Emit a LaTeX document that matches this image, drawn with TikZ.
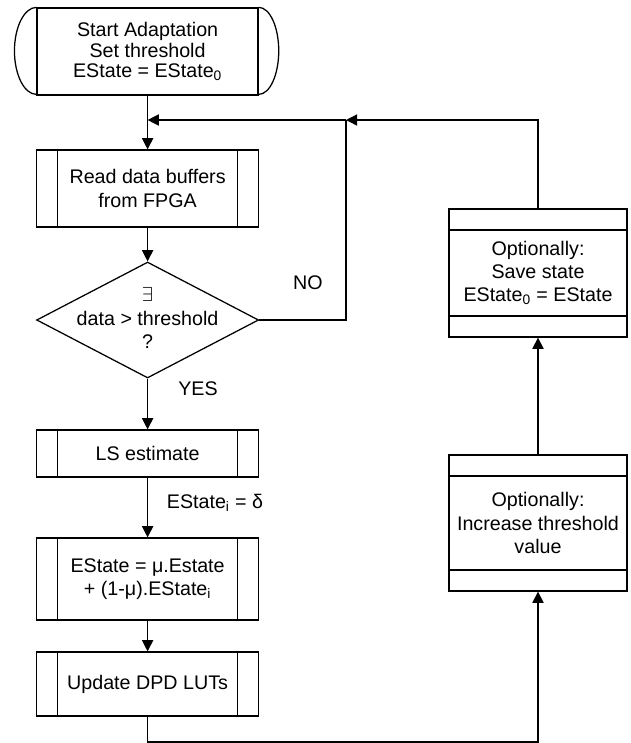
\documentclass[tikz,border=0pt]{standalone}
\usepackage{fontspec}
\setmainfont{Liberation Sans}
\usetikzlibrary{shapes.geometric,arrows.meta}

\begin{document}
\begin{tikzpicture}[line width=0.9pt,
    every node/.style={font=\fontsize{14}{16.5}\selectfont, align=center},
    flow/.style={-{Triangle[width=8pt,length=8pt]}},
    startbox/.style={draw, rectangle, inner sep=0pt, minimum width=5.525cm, minimum height=2.175cm,
        font=\fontsize{14}{14.5}\selectfont},
    procbox/.style={draw, rectangle, inner sep=0pt, minimum width=5.55cm,
        path picture={
            \draw ([xshift=5.25mm]path picture bounding box.north west) -- ([xshift=5.25mm]path picture bounding box.south west);
            \draw ([xshift=-5.25mm]path picture bounding box.north east) -- ([xshift=-5.25mm]path picture bounding box.south east);}},
    optbox/.style={draw, rectangle, inner sep=0pt, minimum width=4.45cm,
        path picture={
            \draw ([yshift=-5.25mm]path picture bounding box.north west) -- ([yshift=-5.25mm]path picture bounding box.north east);
            \draw ([yshift=5.25mm]path picture bounding box.south west) -- ([yshift=5.25mm]path picture bounding box.south east);}},
    decision/.style={draw, diamond, aspect=1.9, inner sep=0pt, minimum width=5.55cm, minimum height=2.9cm}]
    \useasboundingbox (0,0) rectangle (15.775,-18.575);

    \node[startbox] (start) at (3.69,-1.2875) {Start Adaptation\\Set threshold\\EState = EState\textsubscript{0}};
    \draw (start.north west) arc[start angle=90, end angle=270, x radius=0.55cm, y radius=1.0875cm];
    \draw (start.north east) arc[start angle=90, end angle=-90, x radius=0.5cm, y radius=1.0875cm];

    \node[procbox, minimum height=1.925cm] (read) at (3.69,-4.7125) {Read data buffers\\from FPGA};
    \node[decision] (test) at (3.69,-8.0) {};
    \node (testtext) at (3.69,-7.95) {$\exists$\\data > threshold\\?};
    \node[procbox, minimum height=1.175cm] (ls) at (3.69,-11.3375) {LS estimate};
    \node[procbox, minimum height=2.05cm] (upd) at (3.69,-14.475) {EState = μ.Estate\\+ (1-μ).EState\textsubscript{i}};
    \node[procbox, minimum height=1.6cm] (lut) at (3.69,-17.1) {Update DPD LUTs};

    \node[optbox, minimum height=3.2cm] (save) at (13.45,-6.825) {Optionally:\\Save state\\EState\textsubscript{0} = EState};
    \node[optbox, minimum height=3.4cm] (incr) at (13.45,-13.075) {Optionally:\\Increase threshold\\value};

    \node (no) at (7.7,-7.075) {NO};
    \node (yes) at (4.95,-9.725) {YES};
    \node (estlbl) at (5.375,-12.575) {EState\textsubscript{i} = δ};

    \coordinate (merge) at (3.69,-3.0);
    \coordinate (junc) at (8.65,-3.0);
    \coordinate (bottom) at (3.69,-18.55);

    \draw[flow] (start) -- (read);
    \draw[flow] (junc) -- (merge);
    \draw (test) -| (junc);
    \draw[flow] (save) |- (junc);
    \draw[flow] (read) -- (test);
    \draw[flow] (test) -- (ls);
    \draw[flow] (ls) -- (upd);
    \draw[flow] (upd) -- (lut);
    \draw[flow] (lut) -- (bottom) -| (incr);
    \draw[flow] (incr) -- (save);
\end{tikzpicture}
\end{document}
